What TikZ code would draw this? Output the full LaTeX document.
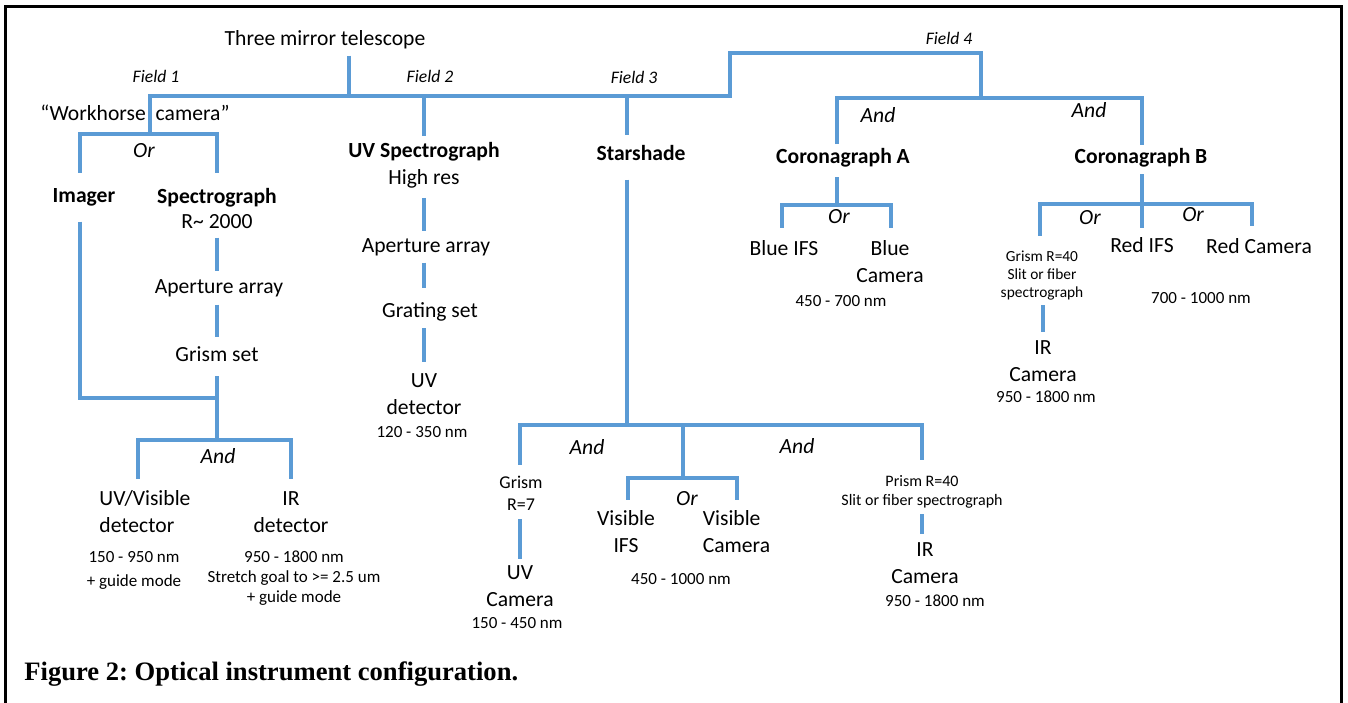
\documentclass[tikz,border=0pt]{standalone}
\usepackage{fontspec}
\setmainfont{Carlito}
\newfontfamily\captionfont{Liberation Serif}
\usetikzlibrary{positioning}
\definecolor{treeblue}{HTML}{5B9BD5}

\begin{document}
\begin{tikzpicture}[x=0.5pt,y=-0.5pt,line join=miter,
	bl/.style={draw=treeblue,line width=2pt},
	txt/.style={font=\fontsize{10.8}{13.5}\selectfont,align=center,inner sep=0pt},
	hdr/.style={txt,font=\fontsize{10.8}{13.5}\selectfont\bfseries},
	op/.style={font=\fontsize{10.8}{13.5}\selectfont\itshape,inner sep=0pt},
	fld/.style={font=\fontsize{8.8}{10}\selectfont\itshape,inner sep=0pt},
	rng/.style={font=\fontsize{8.5}{10}\selectfont,align=center,inner sep=0pt},
	note/.style={font=\fontsize{7.8}{9}\selectfont,align=center,inner sep=0pt}]
	\useasboundingbox (0,0) rectangle (1348,702);
	\draw[line width=1.5pt] (5,712) -- (5,6) -- (1341,6) -- (1341,712);
	% top of the tree
	\node[txt] (tel) at (325,40) {Three mirror telescope};
	\node[fld] (f1) at (156,76) {Field 1};
	\node[fld] (f2) at (430,76) {Field 2};
	\node[fld] (f3) at (634,77) {Field 3};
	\node[fld] (f4) at (949,38) {Field 4};
	\path (349,96) coordinate (t)
		(150,96) coordinate (w)
		(730,96) coordinate (s1)
		(730,53) coordinate (s2)
		(981,53) coordinate (s3)
		(981,98) coordinate (s4)
		(424,96) coordinate (f2j)
		(627,96) coordinate (f3j);
	\draw[bl,shorten <=3pt] (tel.south -| t) -- (t);
	% field 1
	\node[txt] (work) at (135,113) {“Workhorse\hspace{5pt}camera”};
	\path (150,134) coordinate (o1)
		(80,134) coordinate (o1l)
		(217,134) coordinate (o1r)
		(80,398) coordinate (ic)
		(217,398) coordinate (ij)
		(217,440) coordinate (a1)
		(138,440) coordinate (a1l)
		(291,440) coordinate (a1r);
	\draw[bl] (o1) -- (w) -- (s1) -- (s2) -- (s3) -- (s4);
	\node[op] (or1) at (144,151) {Or};
	\node[hdr] (imager) at (84,197) {Imager};
	\node[txt] (spec) at (217,208) {\textbf{Spectrograph}\\[-1pt]R\textasciitilde\ 2000};
	\draw[bl,shorten <=7.5pt,shorten >=7pt] (imager.north -| o1l) -- (o1l) -- (o1r) -- (spec.north -| o1r);
	\node[txt] (ap1) at (219,288) {Aperture array};
	\node[txt] (gs) at (217,354.5) {Grism set};
	\draw[bl,shorten <=4.5pt,shorten >=4pt] (spec.south -| o1r) -- (ap1.north -| o1r);
	\draw[bl,shorten <=3.75pt,shorten >=5pt] (ap1.south -| o1r) -- (gs.north -| o1r);
	\draw[bl,shorten <=7pt] (gs.south -| o1r) -- (a1);
	\draw[bl,shorten <=7.75pt] (imager.south -| ic) -- (ic) -- (ij);
	\node[op] (and1) at (218,456) {And};
	\node[txt,align=left] (uvvis) at (145,512) {UV/Visible\\detector};
	\node[txt] (ird) at (291,512.5) {IR\\detector};
	\draw[bl,shorten <=6pt,shorten >=6.5pt] (uvvis.north -| a1l) -- (a1l) -- (a1r) -- (ird.north -| a1r);
	\node[rng] (uvvisr) at (134,570) {150 - 950 nm\\[2pt]+ guide mode};
	\node[rng] (irdr) at (294,578) {950 - 1800 nm\\Stretch goal to >= 2.5 um\\+ guide mode};
	% field 2
	\node[txt] (uvsp) at (424,165) {\textbf{UV Spectrograph}\\High res};
	\node[txt] (ap2) at (426,247) {Aperture array};
	\node[txt] (grat) at (430,312) {Grating set};
	\node[txt] (uvdet) at (424,394.5) {UV\\detector};
	\node[rng] (uvdetr) at (422,432) {120 - 350 nm};
	\draw[bl,shorten >=3pt] (f2j) -- (uvsp.north -| f2j);
	\draw[bl,shorten <=4.75pt,shorten >=3.5pt] (uvsp.south -| f2j) -- (ap2.north -| f2j);
	\draw[bl,shorten <=3.25pt,shorten >=7pt] (ap2.south -| f2j) -- (grat.north -| f2j);
	\draw[bl,shorten <=3.25pt,shorten >=6pt] (grat.south -| f2j) -- (uvdet.north -| f2j);
	% field 3
	\node[hdr] (star) at (641,152.5) {Starshade};
	\path (627,425) coordinate (sj)
		(520,425) coordinate (sl)
		(922,425) coordinate (sr)
		(683,425) coordinate (sm)
		(683,478) coordinate (om)
		(628,478) coordinate (oml)
		(737,478) coordinate (omr);
	\draw[bl,shorten >=4.5pt] (f3j) -- (star.north -| f3j);
	\draw[bl,shorten <=9.5pt] (star.south -| f3j) -- (sj);
	\node[op] (and2) at (587,447) {And};
	\node[op] (and3) at (797,446) {And};
	\node[note,font=\fontsize{9}{11}\selectfont] (grism7) at (521,493.5) {Grism\\R=7};
	\node[note,font=\fontsize{8}{9.5}\selectfont] (prism) at (922,492) {Prism R=40\\Slit or fiber spectrograph};
	\draw[bl,shorten <=5.5pt,shorten >=7.5pt] (grism7.north -| sl) -- (sl) -- (sr) -- (prism.north -| sr);
	\draw[bl] (sm) -- (om);
	\node[op] (or2) at (687,499) {Or};
	\node[txt] (visifs) at (626,532) {Visible\\IFS};
	\node[txt,align=left] (viscam) at (736.5,532) {Visible\\Camera};
	\draw[bl,shorten <=5.5pt,shorten >=5.5pt] (visifs.north -| oml) -- (oml) -- (omr) -- (viscam.north -| omr);
	\node[rng] (visr) at (681,579) {450 - 1000 nm};
	\node[txt] (uvcam) at (520,586.5) {UV\\Camera};
	\node[rng] (uvcamr) at (517,623) {150 - 450 nm};
	\draw[bl,shorten <=4pt,shorten >=3.5pt] (grism7.south -| sl) -- (uvcam.north -| sl);
	\node[txt] (ircam1) at (925,563) {IR\\Camera};
	\node[rng] (ircam1r) at (935,601) {950 - 1800 nm};
	\draw[bl,shorten <=2.75pt,shorten >=4pt] (prism.south -| sr) -- (ircam1.north -| sr);
	% field 4
	\path (837,98) coordinate (cl)
		(1142,98) coordinate (cr)
		(837,205) coordinate (oa)
		(782,205) coordinate (oal)
		(891,205) coordinate (oar)
		(1142,204) coordinate (ob)
		(1040,204) coordinate (obl)
		(1252,204) coordinate (obr);
	\node[op] (anda) at (878,115) {And};
	\node[op] (andb) at (1089,110) {And};
	\node[hdr] (cora) at (843,158) {Coronagraph A};
	\node[hdr] (corb) at (1141,158) {Coronagraph B};
	\draw[bl,shorten <=2pt,shorten >=1.5pt] (cora.north -| cl) -- (cl) -- (cr) -- (corb.north -| cr);
	\draw[bl,shorten <=4.75pt] (cora.south -| cl) -- (oa);
	\node[op] (ora) at (839,217) {Or};
	\node[txt] (blueifs) at (784,248.5) {Blue IFS};
	\node[txt] (bluecam) at (890,261.5) {Blue\\Camera};
	\node[rng] (bluer) at (841,301) {450 - 700 nm};
	\draw[bl,shorten <=6.5pt,shorten >=6pt] (blueifs.north -| oal) -- (oal) -- (oar) -- (bluecam.north -| oar);
	\draw[bl,shorten <=3.25pt] (corb.south -| ob) -- (ob);
	\node[op] (orb1) at (1090,218) {Or};
	\node[op] (orb2) at (1193,215) {Or};
	\node[txt] (redifs) at (1142,245.5) {Red IFS};
	\node[txt] (redcam) at (1259,246.5) {Red Camera};
	\node[rng] (redr) at (1201,298) {700 - 1000 nm};
	\node[note,font=\fontsize{7.7}{9}\selectfont] (grism40) at (1042,276) {Grism R=40\\Slit or fiber\\spectrograph};
	\draw[bl,shorten >=5pt] (ob) -- (redifs.north -| ob);
	\draw[bl,shorten <=7.5pt,shorten >=6.5pt] (grism40.north -| obl) -- (obl) -- (obr) -- (redcam.north -| obr);
	\node[txt] (ircam2) at (1043,361.5) {IR\\Camera};
	\node[rng] (ircam2r) at (1046,397) {950 - 1800 nm};
	\draw[bl,shorten <=2pt,shorten >=4.5pt] (grism40.south -| ircam2) -- (ircam2.north);
	% caption
	\node[anchor=west,inner sep=0pt,font=\captionfont\fontsize{13.3}{15}\selectfont\bfseries\frenchspacing] (cap) at (24,674) {Figure 2: Optical instrument configuration.};
\end{tikzpicture}
\end{document}
